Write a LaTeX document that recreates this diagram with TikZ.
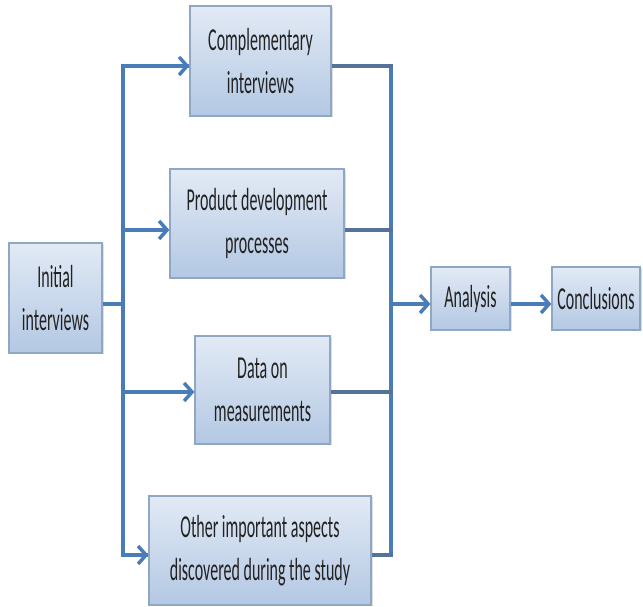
\documentclass[tikz,border=0pt]{standalone}
\usepackage{fontspec}
\setmainfont{Carlito}[FakeStretch=0.5]
\usetikzlibrary{arrows.meta,shadows}
\definecolor{lineblue}{HTML}{4A7DB8}
\definecolor{darkline}{HTML}{56719A}
\definecolor{boxtop}{HTML}{E2EAF5}
\definecolor{boxbot}{HTML}{B3C8E3}
\definecolor{boxedge}{HTML}{8FA6C4}
\definecolor{txt}{HTML}{222222}
\tikzset{
  box/.style={rectangle, draw=boxedge, line width=1.2pt, top color=boxtop, bottom color=boxbot,
    align=center, inner sep=2pt, text=txt,
    font=\fontsize{32}{43}\selectfont,
    drop shadow={opacity=0.25, shadow xshift=1.5pt, shadow yshift=-1.5pt}},
  conn/.style={draw=lineblue, line width=3.5pt},
  arr/.style={conn, -{Straight Barb[length=8pt,width=18pt]}},
  outconn/.style={draw=darkline, line width=4.5pt},
}
\begin{document}
\begin{tikzpicture}[x=1pt,y=1pt]
\useasboundingbox (0,0) rectangle (643,607);
\node[box, minimum width=141, minimum height=110] (comp) at (260.5,546) {Complementary\\interviews};
\node[box, minimum width=174, minimum height=109] (prod) at (257,383.5) {Product development\\processes};
\node[box, minimum width=135, minimum height=108] (data) at (262.5,217) {Data on\\measurements};
\node[box, minimum width=222, minimum height=109] (other) at (260,56.5) {Other important aspects\\discovered during the study};
\node[box, minimum width=93, minimum height=110] (init) at (55.5,309) {Initial\\interviews};
\node[box, minimum width=79, minimum height=63] (ana) at (470.5,308.5) {Analysis};
\node[box, minimum width=88, minimum height=63] (conc) at (596,308.5) {Conclusions};
\coordinate (jL) at (123,303);
\coordinate (jR) at (391,303);
\draw[conn] ([yshift=-6pt]init.east) -- (jL);
\draw[conn] (jL) |- ([yshift=-5pt]comp.west);
\draw[conn] (jL) |- ([yshift=-4.5pt]other.west);
\draw[arr] ([xshift=1.75pt]jL |- comp.west) ++(0,-5) -- ([yshift=-5pt]comp.west);
\draw[arr] (jL |- prod.west) ++(0,-6.5) -- ([yshift=-6.5pt]prod.west);
\draw[arr] (jL |- data.west) ++(0,-2) -- ([yshift=-2pt]data.west);
\draw[arr] ([xshift=1.75pt]jL |- other.west) ++(0,-4.5) -- ([yshift=-4.5pt]other.west);
\draw[conn] ([yshift=-5pt]comp.east -| jR) -- ([yshift=-4.5pt]other.east -| jR);
\draw[outconn] ([yshift=-5pt]comp.east) -- ([yshift=-5pt,xshift=2pt]comp.east -| jR);
\draw[outconn] ([yshift=-6.5pt]prod.east) -- ([yshift=-6.5pt,xshift=2pt]prod.east -| jR);
\draw[outconn] ([yshift=-2pt]data.east) -- ([yshift=-2pt,xshift=2pt]data.east -| jR);
\draw[outconn] ([yshift=-4.5pt]other.east) -- ([yshift=-4.5pt,xshift=2pt]other.east -| jR);
\draw[arr] (jR) -- ([yshift=-5.5pt]ana.west);
\draw[arr] ([yshift=-5.5pt]ana.east) -- ([yshift=-5.5pt]conc.west);
\end{tikzpicture}
\end{document}
